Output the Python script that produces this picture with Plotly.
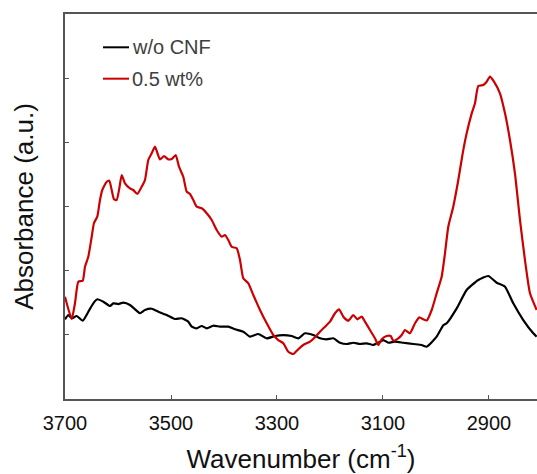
import plotly.graph_objects as go

# ---- data ----
wn_red = [3700, 3687.4, 3681.1, 3674.9, 3666.6, 3662.3, 3656.0, 3649.6, 3645.3, 3639.1,
          3634.0, 3629.6, 3621.3, 3616.4, 3611.9, 3607.5, 3602.5, 3597.5, 3593.0, 3586.8,
          3577.4, 3571.1, 3563.6, 3555.3, 3549.1, 3542.8, 3536.4, 3530.2, 3520.8, 3513.2,
          3505.1, 3498.7, 3491.1, 3484.9, 3476.8, 3470.4, 3464.2, 3457.9, 3451.5, 3442.1,
          3432.6, 3423.2, 3413.8, 3404.3, 3398.1, 3391.9, 3385.5, 3376.0, 3369.8, 3363.6,
          3354.1, 3344.7, 3332.1, 3319.4, 3307.0, 3297.5, 3288.1, 3278.7, 3269.2, 3259.8,
          3250.4, 3237.7, 3228.3, 3218.9, 3209.4, 3200.0, 3190.6, 3183.0, 3174.9, 3165.5,
          3156.0, 3148.5, 3140.2, 3134.0, 3124.5, 3115.1, 3108.9, 3102.4, 3093.0, 3085.5,
          3080.6, 3071.1, 3064.7, 3058.5, 3049.1, 3039.6, 3031.5, 3023.9, 3017.5, 3008.1,
          2998.7, 2989.3, 2983.0, 2976.8, 2967.4, 2957.9, 2949.6, 2942.1, 2932.6, 2926.4,
          2920.2, 2910.8, 2904.4, 2898.1, 2890.6, 2879.3, 2869.8, 2860.4, 2851.0, 2841.5,
          2832.1, 2822.6, 2810.0]
abs_red = [1.594, 1.247, 1.496, 1.828, 1.844, 2.062, 2.218, 2.529, 2.743, 2.841,
           3.101, 3.257, 3.386, 3.402, 3.257, 3.112, 3.101, 3.283, 3.491, 3.361,
           3.283, 3.257, 3.195, 3.308, 3.413, 3.725, 3.829, 3.932, 3.735, 3.787,
           3.735, 3.740, 3.802, 3.620, 3.464, 3.231, 3.195, 3.101, 2.997, 2.972,
           2.894, 2.789, 2.634, 2.529, 2.556, 2.478, 2.373, 2.348, 2.166, 1.881,
           1.803, 1.621, 1.387, 1.180, 0.997, 0.919, 0.868, 0.737, 0.701, 0.775,
           0.842, 0.893, 0.962, 1.049, 1.127, 1.205, 1.336, 1.398, 1.283, 1.220,
           1.309, 1.242, 1.283, 1.205, 1.075, 0.946, 0.842, 0.930, 0.982, 0.982,
           0.909, 0.946, 0.997, 1.075, 1.024, 1.180, 1.273, 1.242, 1.223, 1.387,
           1.647, 1.906, 2.271, 2.685, 2.997, 3.413, 3.829, 4.141, 4.452, 4.608,
           4.878, 4.893, 4.945, 5.023, 4.945, 4.764, 4.452, 4.036, 3.517, 2.789,
           2.166, 1.647, 1.387]

wn_black = [3700, 3693.8, 3687.4, 3677.9, 3666.6, 3656.0, 3646.6, 3639.1, 3627.7, 3615.1,
            3608.9, 3599.4, 3590.0, 3577.4, 3567.9, 3558.5, 3549.1, 3536.4, 3524.0, 3508.1,
            3492.5, 3479.8, 3467.4, 3460.9, 3451.5, 3442.1, 3432.6, 3420.2, 3407.5, 3391.9,
            3379.2, 3363.6, 3350.9, 3335.3, 3319.4, 3303.8, 3288.1, 3272.3, 3259.8, 3247.2,
            3231.5, 3218.9, 3206.2, 3193.8, 3181.1, 3168.5, 3156.0, 3143.4, 3130.8, 3118.3,
            3108.9, 3099.4, 3090.0, 3077.4, 3061.7, 3042.8, 3027.0, 3017.5, 2998.7, 2986.2,
            2979.8, 2960.9, 2942.1, 2920.2, 2901.3, 2885.5, 2869.8, 2854.2, 2835.3, 2816.4,
            2810.0]
abs_black = [1.242, 1.309, 1.258, 1.293, 1.220, 1.360, 1.491, 1.554, 1.516, 1.449,
             1.491, 1.480, 1.501, 1.465, 1.398, 1.336, 1.387, 1.407, 1.360, 1.309,
             1.247, 1.258, 1.205, 1.127, 1.102, 1.138, 1.102, 1.142, 1.127, 1.127,
             1.086, 1.049, 0.971, 1.013, 0.946, 0.982, 0.997, 0.982, 0.946, 1.024,
             0.997, 0.946, 0.930, 0.946, 0.877, 0.857, 0.877, 0.857, 0.868, 0.842,
             0.877, 0.919, 0.877, 0.893, 0.877, 0.857, 0.842, 0.815, 0.971, 1.150,
             1.180, 1.413, 1.699, 1.854, 1.917, 1.812, 1.750, 1.491, 1.231, 1.024,
             0.971]

x_ticks = [3700, 3500, 3300, 3100, 2900]
y_ticks = [1, 2, 3, 4, 5]
series_names = ["w/o CNF", "0.5 wt%"]
series_colors = ["#000000", "#cc0000"]

fig = go.Figure()
fig.add_trace(go.Scatter(x=wn_black, y=abs_black, mode="lines", name=series_names[0],
                         line=dict(color=series_colors[0], width=2.2, shape="spline",
                                   smoothing=0.5), showlegend=False))
fig.add_trace(go.Scatter(x=wn_red, y=abs_red, mode="lines", name=series_names[1],
                         line=dict(color=series_colors[1], width=2.2, shape="spline",
                                   smoothing=0.5), showlegend=False))

# manual legend
legend_rows = [0.9135, 0.832]
for name, color, yy in zip(series_names, series_colors, legend_rows):
    fig.add_shape(type="line", xref="paper", yref="paper",
                  x0=(103 - 65) / 472, x1=(129 - 65) / 472, y0=yy, y1=yy,
                  line=dict(color=color, width=2))
    fig.add_annotation(xref="paper", yref="paper", x=(130 - 65) / 472, y=yy,
                       text=name, showarrow=False, xanchor="left", yanchor="middle",
                       font=dict(family="Liberation Sans, Arial", size=20, color="#404040"))

fig.update_layout(
    width=537, height=474,
    margin=dict(l=65, r=0, t=14, b=75),
    plot_bgcolor="white", paper_bgcolor="white",
    font=dict(family="Liberation Sans, Arial", color="#111111"),
    xaxis=dict(
        range=[3700, 2809.4], tickvals=x_ticks, ticktext=[str(v) for v in x_ticks],
        ticks="inside", ticklen=4, tickwidth=1.2, tickcolor="#555555",
        showline=True, linecolor="#555555", linewidth=1.6, mirror=True,
        showgrid=False, zeroline=False, ticklabelstandoff=5,
        tickfont=dict(size=20, color="#111111"),
        title=dict(text="Wavenumber (cm<sup>-1</sup>)", font=dict(size=26, color="#111111"),
                   standoff=20),
    ),
    yaxis=dict(
        range=[0, 6], tickvals=y_ticks, showticklabels=False,
        ticks="inside", ticklen=4, tickwidth=1.2, tickcolor="#555555",
        showline=True, linecolor="#555555", linewidth=1.6,
        showgrid=False, zeroline=False,
        title=dict(text="Absorbance (a.u.)", font=dict(size=26, color="#111111"),
                   standoff=22),
    ),
)

fig.write_html("out.html")
